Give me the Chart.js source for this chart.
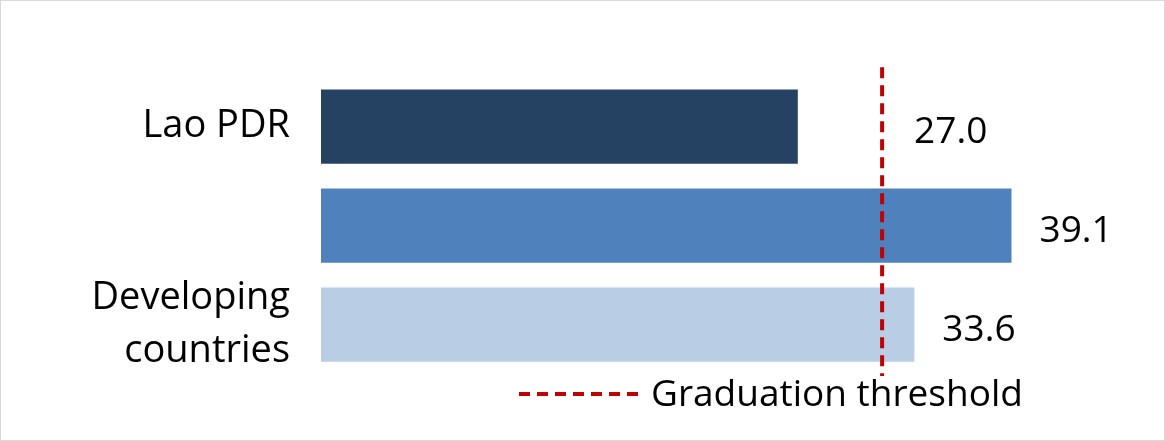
<!DOCTYPE html>
<html>
<head>
<meta charset="utf-8">
<script src="https://cdn.jsdelivr.net/npm/chart.js@4.4.1/dist/chart.umd.min.js"></script>
<style>
  html, body { margin: 0; padding: 0; background: #fff; }
  #wrap { position: relative; width: 1163px; height: 439px; border: 1px solid #d9d9d9; }
</style>
</head>
<body>
<div id="wrap"><canvas id="chart" width="1163" height="439"></canvas></div>
<script>
const categories = [["Lao PDR"], ["LDCs"], ["Developing", "countries"]];
const values = [27.0, 39.1, 33.6];
const barColors = ["#264263", "#4f81bd", "#b9cde5"];
const threshold = 32;
const thresholdLabel = "Graduation threshold";

const FONT = "'Open Sans', 'Liberation Sans', sans-serif";

// value labels, threshold line and legend
const overlay = {
  id: "overlay",
  afterDatasetsDraw(chart) {
    const ctx = chart.ctx;
    const x = chart.scales.x;
    const area = chart.chartArea;
    const tx = x.getPixelForValue(threshold);

    ctx.save();
    ctx.strokeStyle = "#c00000";
    ctx.lineWidth = 4;
    ctx.setLineDash([11, 7]);
    ctx.beginPath();
    ctx.moveTo(tx - 4, area.top - 10);
    ctx.lineTo(tx - 4, area.bottom + 2);
    ctx.stroke();

    ctx.setLineDash([]);
    ctx.fillStyle = "#000";
    ctx.font = "37px " + FONT;
    ctx.textBaseline = "middle";
    ctx.textAlign = "left";
    chart.getDatasetMeta(0).data.forEach((bar, i) => {
      const left = Math.max(bar.x, tx) + 28;
      ctx.fillText(values[i].toFixed(1), left, bar.y + 6);
    });

    // legend
    const ly = 393;
    ctx.setLineDash([11, 7]);
    ctx.beginPath();
    ctx.moveTo(518, ly);
    ctx.lineTo(640, ly);
    ctx.stroke();
    ctx.setLineDash([]);
    ctx.fillText(thresholdLabel, 650, ly + 1);
    ctx.restore();
  }
};

new Chart(document.getElementById("chart"), {
  type: "bar",
  data: {
    labels: categories,
    datasets: [{
      data: values,
      backgroundColor: barColors,
      categoryPercentage: 0.75,
      barPercentage: 1.0
    }]
  },
  options: {
    indexAxis: "y",
    responsive: false,
    animation: false,
    layout: { padding: { top: 62, bottom: 66, left: 0, right: 13 } },
    plugins: { legend: { display: false }, tooltip: { enabled: false } },
    scales: {
      x: {
        min: 0, max: 47,
        display: false
      },
      y: {
        grid: { display: false },
        border: { display: false },
        ticks: { color: "#000", font: { size: 38, family: FONT, lineHeight: 1.4 }, padding: 23 },
        afterFit(scale) { scale.width = 320; }
      }
    }
  },
  plugins: [overlay]
});
</script>
</body>
</html>
